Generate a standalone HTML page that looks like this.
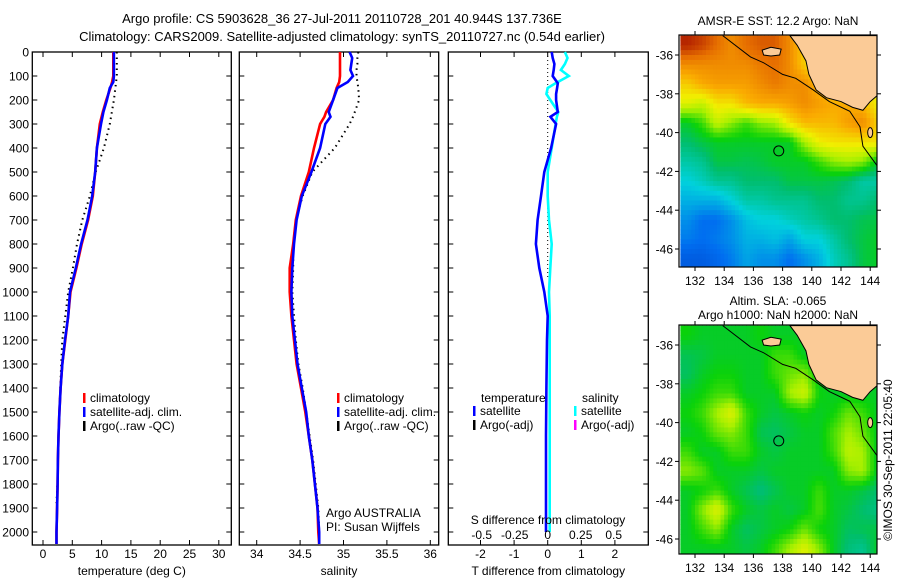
<!DOCTYPE html>
<html><head><meta charset="utf-8"><style>
body{margin:0;background:#fff}
svg{display:block;font-family:"Liberation Sans",sans-serif;font-size:12px}
</style></head><body>
<svg id="c" width="900" height="580" viewBox="0 0 900 580" xmlns="http://www.w3.org/2000/svg">
<rect width="900" height="580" fill="#fff"/>
<text x="342" y="23" text-anchor="middle" font-size="13">Argo profile: CS 5903628_36 27-Jul-2011 20110728_201 40.944S 137.736E</text>
<text x="342" y="41" text-anchor="middle" font-size="13">Climatology: CARS2009. Satellite-adjusted climatology: synTS_20110727.nc (0.54d earlier)</text>
<g id="p1"></g>
<g id="p2"></g>
<g id="p3"></g>
<g id="m1"></g>
<g id="m2"></g>
<text transform="translate(892,460) rotate(-90)" text-anchor="middle" font-size="12">©IMOS 30-Sep-2011 22:05:40</text>
</svg>
<script>
// ---- profile data ----
const depths = [0,50,100,125,150,200,250,300,400,500,600,700,800,900,1000,1100,1200,1300,1400,1500,1600,1700,1800,1900,2000,2050];
const tempClim = [12.0,12.0,12.0,11.8,11.5,10.8,10.2,9.7,9.2,8.9,8.5,7.7,6.6,5.7,4.7,4.3,3.8,3.3,3.0,2.8,2.65,2.55,2.5,2.4,2.3,2.3];
const tempSat  = [12.1,12.1,12.1,12.0,11.4,10.9,10.3,9.9,9.2,8.9,8.4,7.6,6.5,5.6,4.6,4.3,3.75,3.3,3.0,2.8,2.65,2.55,2.5,2.4,2.3,2.3];
const argoDepths = [0,100,200,300,400,500,600,700,800,900,1000,1100,1200,1300,1400,1500,1600,1700,1800,1880];
const tempArgo = [12.6,12.6,12.1,11.4,10.4,9.0,8.0,6.7,5.8,5.1,4.3,3.8,3.3,3.1,2.95,2.8,2.65,2.55,2.45,2.3];
const salDepths = [0,25,50,75,100,125,150,200,250,270,300,400,500,600,700,800,900,1000,1100,1200,1300,1400,1500,1600,1700,1800,1900,2000,2050];
const salClim = [34.96,34.96,34.96,34.96,34.96,34.95,34.92,34.88,34.8,34.78,34.73,34.66,34.6,34.51,34.45,34.42,34.38,34.38,34.4,34.43,34.46,34.51,34.56,34.6,34.64,34.67,34.7,34.71,34.72];
const salSat  = [35.07,35.1,35.09,35.08,35.11,35.05,34.93,34.88,34.83,34.85,34.79,34.73,34.63,34.52,34.46,34.43,34.41,34.4,34.41,34.44,34.47,34.52,34.57,34.6,34.64,34.67,34.7,34.72,34.72];
const salArgo = [35.17,35.16,35.16,35.15,35.15,35.16,35.17,35.18,35.13,35.11,35.07,34.9,34.64,34.53,34.45,34.42,34.42,34.41,34.43,34.45,34.48,34.53,34.57,34.61,34.65,34.68,34.71,34.72,34.72];
const diffDepths = [0,25,50,75,100,130,150,175,200,250,270,300,400,500,600,700,800,900,1000,1100,1200,1400,1600,1800,2000];
const tDiff = [0.12,0.15,0.2,0.18,0.15,0.3,0.28,0.25,0.25,0.3,0.08,0.25,0.1,-0.1,-0.2,-0.3,-0.35,-0.25,-0.1,0,-0.02,-0.04,-0.05,-0.05,-0.05];
const sDiff = [0.13,0.15,0.13,0.1,0.16,0.06,0.0,-0.01,0.02,0.08,0.07,0.06,0.03,0.0,0.0,0.01,0.03,0.02,0.01,0.015,0.015,0.015,0.015,0.015,0.015];
const depthTicks = [0,100,200,300,400,500,600,700,800,900,1000,1100,1200,1300,1400,1500,1600,1700,1800,1900,2000];
const tempTicks = [0,5,10,15,20,25,30];
const salTicks = [34,34.5,35,35.5,36];
const tDiffTicks = [-2,-1,0,1,2];
const sDiffTicks = [-0.5,-0.25,0,0.25,0.5];
const sDiffTickLabels = ["-0.5","-0.25","0","0.25","0.5"];
// ---- map data (1-degree grids, normalized colour value 0..1) ----
const mapLons = [131.5,132.5,133.5,134.5,135.5,136.5,137.5,138.5,139.5,140.5,141.5,142.5,143.5,144.5];
const mapLats = [-35.5,-36.5,-37.5,-38.5,-39.5,-40.5,-41.5,-42.5,-43.5,-44.5,-45.5,-46.5];
const sstGrid = [
[0.98,0.95,0.9,0.85,0.9,0.92,0.92,0.85,0.75,0.7,0.7,0.7,0.7,0.7],
[0.85,0.85,0.85,0.85,0.85,0.88,0.9,0.85,0.75,0.7,0.7,0.7,0.7,0.7],
[0.75,0.8,0.82,0.82,0.82,0.85,0.88,0.85,0.85,0.78,0.7,0.7,0.7,0.7],
[0.68,0.65,0.72,0.72,0.78,0.8,0.8,0.82,0.85,0.82,0.8,0.8,0.78,0.7],
[0.5,0.55,0.65,0.6,0.55,0.6,0.62,0.72,0.78,0.78,0.78,0.82,0.85,0.75],
[0.45,0.48,0.5,0.5,0.5,0.5,0.5,0.5,0.62,0.7,0.72,0.72,0.72,0.72],
[0.4,0.42,0.48,0.48,0.47,0.48,0.5,0.5,0.5,0.55,0.6,0.62,0.6,0.5],
[0.35,0.38,0.42,0.42,0.45,0.45,0.45,0.48,0.48,0.48,0.47,0.45,0.4,0.4],
[0.3,0.3,0.3,0.35,0.4,0.4,0.42,0.42,0.42,0.45,0.45,0.42,0.42,0.45],
[0.25,0.2,0.2,0.25,0.32,0.35,0.35,0.38,0.4,0.42,0.45,0.45,0.47,0.48],
[0.22,0.2,0.22,0.25,0.3,0.3,0.32,0.28,0.35,0.35,0.4,0.45,0.48,0.5],
[0.15,0.15,0.18,0.22,0.28,0.25,0.25,0.2,0.25,0.3,0.38,0.42,0.48,0.5]];
const slaGrid = [
[0.52,0.5,0.5,0.5,0.5,0.52,0.5,0.5,0.5,0.5,0.5,0.5,0.5,0.5],
[0.47,0.48,0.5,0.5,0.5,0.5,0.55,0.55,0.5,0.5,0.5,0.5,0.5,0.5],
[0.46,0.5,0.52,0.52,0.5,0.5,0.55,0.58,0.6,0.5,0.5,0.5,0.5,0.5],
[0.5,0.52,0.55,0.55,0.5,0.5,0.5,0.62,0.66,0.52,0.5,0.5,0.5,0.5],
[0.52,0.55,0.62,0.68,0.55,0.5,0.48,0.5,0.52,0.5,0.52,0.58,0.55,0.5],
[0.5,0.52,0.58,0.6,0.55,0.47,0.46,0.48,0.5,0.5,0.56,0.62,0.58,0.5],
[0.55,0.5,0.5,0.55,0.55,0.5,0.48,0.5,0.5,0.5,0.55,0.64,0.62,0.5],
[0.6,0.57,0.5,0.5,0.5,0.48,0.5,0.5,0.5,0.5,0.5,0.6,0.62,0.5],
[0.5,0.52,0.55,0.5,0.47,0.44,0.47,0.5,0.5,0.55,0.5,0.5,0.48,0.45],
[0.5,0.6,0.68,0.55,0.5,0.48,0.5,0.48,0.5,0.56,0.5,0.48,0.45,0.43],
[0.5,0.55,0.6,0.5,0.46,0.48,0.5,0.52,0.58,0.52,0.5,0.46,0.47,0.48],
[0.5,0.5,0.5,0.5,0.48,0.5,0.55,0.62,0.68,0.6,0.5,0.44,0.42,0.5]];
const landLon = [138.5,139.0,139.6,139.8,140.3,141.0,142.0,142.8,143.5,144.0,144.6,144.6];
const landLat = [-35,-35.5,-36.3,-37.0,-37.8,-38.2,-38.4,-38.7,-38.85,-38.4,-38.1,-35];
const islandLon = [136.6,137.2,137.9,137.8,137.2,136.7];
const islandLat = [-35.75,-35.6,-35.7,-36.0,-36.05,-36.0];
const shelfLon = [133.9,135.8,136.7,138.0,138.9,140.1,141.2,142.6,143.3,143.5,144.6];
const shelfLat = [-35,-36.1,-36.4,-37.0,-37.2,-37.8,-38.4,-38.9,-39.7,-40.7,-41.7];
const argoLon = 137.736, argoLat = -40.944;
const mapLonTicks = [132,134,136,138,140,142,144];
const mapLatTicks = [-36,-38,-40,-42,-44,-46];

const NS='http://www.w3.org/2000/svg';
function mk(parent,tag,attrs,text){const e=document.createElementNS(NS,tag);for(const k in attrs)e.setAttribute(k,attrs[k]);if(text!==undefined)e.textContent=text;parent.appendChild(e);return e;}
const Y0=52,Y1=545;
const yD = d => Y0 + d*0.24;

function panel(g,x0,x1,xs,ticks,labels,title,name){
  const box=mk(g,'rect',{x:x0,y:Y0,width:x1-x0,height:Y1-Y0,fill:'none',stroke:'#000','stroke-width':1.3});
  
  
  ticks.forEach((t,i)=>{const x=xs(t);
    mk(g,'line',{x1:x,x2:x,y1:Y0,y2:Y0+5,stroke:'#000'});
    mk(g,'line',{x1:x,x2:x,y1:Y1,y2:Y1-5,stroke:'#000'});
    const tl=mk(g,'text',{x:x,y:558,'text-anchor':'middle'},labels[i]);
    
    
  });
  depthTicks.forEach(d=>{const y=yD(d);
    mk(g,'line',{x1:x0,x2:x0+5,y1:y,y2:y,stroke:'#000'});
    mk(g,'line',{x1:x1,x2:x1-5,y1:y,y2:y,stroke:'#000'});
  });
  const tt=mk(g,'text',{x:(x0+x1)/2,y:575,'text-anchor':'middle'},title);
  
  
}
function line(g,xs,vals,ds,color,name,dash){
  const pts=vals.map((v,i)=>xs(v).toFixed(1)+','+yD(ds[i]).toFixed(1)).join(' ');
  const a={points:pts,fill:'none',stroke:color,'stroke-width':dash?2:2.6};
  if(dash)a['stroke-dasharray']='1.5 4';
  const p=mk(g,'polyline',a);
  
  
}
function legendRow(g,x,y,color,label){
  mk(g,'rect',{x:x,y:y-9,width:2.5,height:10,fill:color});
  const t=mk(g,'text',{x:x+7,y:y},label);
  
  
}
// y tick labels
const svg=document.getElementById('c');
depthTicks.forEach(d=>{const t=mk(svg,'text',{x:29,y:yD(d)+4.5,'text-anchor':'end'},String(d));
  
  });

// Panel 1
const p1=document.getElementById('p1');
const xT=t=>43+t*5.86;
panel(p1,32.3,231.3,xT,tempTicks,tempTicks.map(String),'temperature (deg C)','temperature');
line(p1,xT,tempArgo,argoDepths,'#000','temp-argo-line',true);
line(p1,xT,tempClim,depths,'#f00','temp-climatology-line');
line(p1,xT,tempSat,depths,'#00f','temp-satellite-line');
legendRow(p1,83,402,'#f00','climatology');
legendRow(p1,83,416,'#00f','satellite-adj. clim.');
legendRow(p1,83,430,'#000','Argo(..raw -QC)');

// Panel 2
const p2=document.getElementById('p2');
const xS=s=>256.7+(s-34)*86.8;
panel(p2,239.3,438.7,xS,salTicks,salTicks.map(String),'salinity','salinity');
line(p2,xS,salArgo,salDepths,'#000','sal-argo-line',true);
line(p2,xS,salClim,salDepths,'#f00','sal-climatology-line');
line(p2,xS,salSat,salDepths,'#00f','sal-satellite-line');
legendRow(p2,337,402,'#f00','climatology');
legendRow(p2,337,416,'#00f','satellite-adj. clim.');
legendRow(p2,337,430,'#000','Argo(..raw -QC)');
mk(p2,'text',{x:326,y:517},'Argo AUSTRALIA');
mk(p2,'text',{x:326,y:531},'PI: Susan Wijffels');

// Panel 3
const p3=document.getElementById('p3');
const xTD=t=>547.7+t*33.6;
const xSD=s=>547.7+s*132;
panel(p3,448.3,648.3,xTD,tDiffTicks,tDiffTicks.map(String),'T difference from climatology','difference');
mk(p3,'line',{x1:xTD(0),x2:xTD(0),y1:Y0,y2:yD(950),stroke:'#000','stroke-dasharray':'1 3'});
line(p3,xSD,sDiff,diffDepths,'#0ff','sal-diff-line');
line(p3,xTD,tDiff,diffDepths,'#00f','temp-diff-line');
mk(p3,'text',{x:481,y:402},'temperature');
mk(p3,'text',{x:582,y:402},'salinity');
legendRow(p3,473,415,'#00f','satellite');
legendRow(p3,473,429,'#000','Argo(-adj)');
legendRow(p3,574,415,'#0ff','satellite');
legendRow(p3,574,429,'#f0f','Argo(-adj)');
mk(p3,'text',{x:548,y:524,'text-anchor':'middle'},'S difference from climatology');
sDiffTicks.forEach((s,i)=>{const t=mk(p3,'text',{x:xSD(s),y:539,'text-anchor':'middle'},sDiffTickLabels[i]);
  
  });

// Maps
function cmap(v){
  const stops=[[0,[0,40,180]],[0.2,[0,110,240]],[0.35,[0,210,220]],[0.45,[0,190,110]],[0.52,[10,210,10]],[0.62,[170,240,0]],[0.7,[240,240,0]],[0.8,[250,170,0]],[0.9,[230,110,0]],[1,[170,20,0]]];
  v=Math.max(0,Math.min(1,v));
  for(let i=1;i<stops.length;i++){if(v<=stops[i][0]){const a=stops[i-1],b=stops[i],f=(v-a[0])/(b[0]-a[0]);
    return 'rgb('+a[1].map((c,k)=>Math.round(c+(b[1][k]-c)*f)).join(',')+')';}}
  return 'rgb(170,20,0)';
}
function sample(grid,lon,lat){
  let fx=(lon-mapLons[0]), fy=(mapLats[0]-lat);
  fx=Math.max(0,Math.min(mapLons.length-1,fx)); fy=Math.max(0,Math.min(mapLats.length-1,fy));
  const i0=Math.floor(fx),j0=Math.floor(fy),i1=Math.min(i0+1,mapLons.length-1),j1=Math.min(j0+1,mapLats.length-1);
  const ax=fx-i0,ay=fy-j0;
  return (grid[j0][i0]*(1-ax)+grid[j0][i1]*ax)*(1-ay)+(grid[j1][i0]*(1-ax)+grid[j1][i1]*ax)*ay;
}
function drawMap(g,grid,top,bot,latRef,yLatRef,title1,title2,name){
  const L=679,R=877;
  const xL=lon=>695+(lon-132)*14.6;
  const yL=lat=>yLatRef+(latRef-lat)*19.4;
  const step=0.25;
  for(let lon=131;lon<144.6;lon+=step){for(let lat=-35;lat>-47.3;lat-=step){
    const x=xL(lon),y=yL(lat);if(x>=R||y>=bot)continue;
    const c=mk(g,'rect',{x:x.toFixed(1),y:y.toFixed(1),width:Math.min(step*14.6+0.6,R-x).toFixed(1),height:Math.min(step*19.4+0.6,bot-y).toFixed(1),fill:cmap(sample(grid,lon+step/2,lat-step/2))});
    
    
  }}
  const clip=(arr)=>arr;
  const land=mk(g,'polygon',{points:landLon.map((lo,i)=>Math.min(xL(lo),R)+','+Math.max(yL(landLat[i]),top)).join(' '),fill:'#fbcb97',stroke:'#000','stroke-width':1});
  
  
  const isl=mk(g,'polygon',{points:islandLon.map((lo,i)=>xL(lo)+','+yL(islandLat[i])).join(' '),fill:'#fbcb97',stroke:'#000','stroke-width':1});
  
  
  const sh=mk(g,'polyline',{points:shelfLon.map((lo,i)=>Math.min(xL(lo),R)+','+Math.max(yL(shelfLat[i]),top)).join(' '),fill:'none',stroke:'#000','stroke-width':1});
  
  
  mk(g,'ellipse',{cx:xL(144),cy:yL(-40),rx:2.5,ry:5,fill:'#fbcb97',stroke:'#000'});
  const ac=mk(g,'circle',{cx:xL(argoLon),cy:yL(argoLat),r:5,fill:'none',stroke:'#000','stroke-width':1});
  
  
  mk(g,'rect',{x:L,y:top,width:R-L,height:bot-top,fill:'none',stroke:'#000','stroke-width':1.2});
  mapLonTicks.forEach(lo=>{const x=xL(lo);
    mk(g,'line',{x1:x,x2:x,y1:top,y2:top-4,stroke:'#000'});
    mk(g,'line',{x1:x,x2:x,y1:bot,y2:bot+4,stroke:'#000'});
    const t=mk(g,'text',{x:x,y:bot+18,'text-anchor':'middle'},String(lo));
    
    });
  mapLatTicks.forEach(la=>{const y=yL(la);
    mk(g,'line',{x1:L,x2:L-4,y1:y,y2:y,stroke:'#000'});
    mk(g,'line',{x1:R,x2:R+4,y1:y,y2:y,stroke:'#000'});
    const t=mk(g,'text',{x:L-6,y:y+4.5,'text-anchor':'end'},String(la));
    
    });
  const t1=mk(g,'text',{x:778,y:title2?top-20:top-10,'text-anchor':'middle'},title1);
  
  
  if(title2)mk(g,'text',{x:778,y:top-6,'text-anchor':'middle'},title2);
}
drawMap(document.getElementById('m1'),sstGrid,35,267,-36,55,'AMSR-E SST: 12.2 Argo: NaN',null,'sst-map');
drawMap(document.getElementById('m2'),slaGrid,325,554,-36,345,'Altim. SLA: -0.065','Argo h1000: NaN h2000: NaN','sla-map');
</script>
</body></html>
